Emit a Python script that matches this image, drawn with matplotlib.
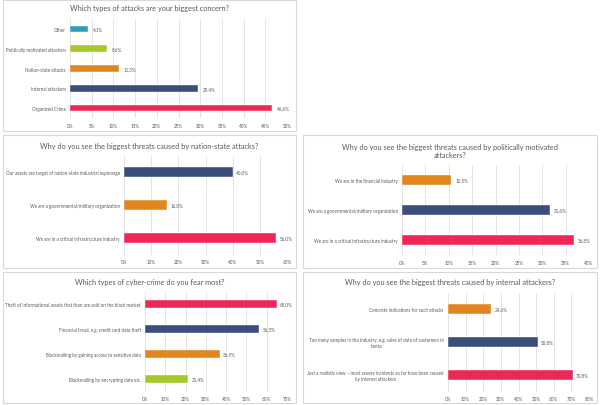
import matplotlib.pyplot as plt
from matplotlib.patches import Rectangle

# chart 1
concern_cats = ["Other", "Politically motivated attackers", "Nation-state attacks",
                "Internal attackers", "Organized Crime"]
concern_vals = [4.1, 8.6, 11.3, 29.4, 46.6]

# chart 2
nation_cats = ["Our assets are target of nation-state industrial espionage",
               "We are a governmental/military organization",
               "We are in a critical infrastructure industry"]
nation_vals = [40.0, 16.0, 56.0]

# chart 3
polit_cats = ["We are in the financial industry",
              "We are a governmental/military organization",
              "We are in a critical infrastructure industry"]
polit_vals = [10.5, 31.6, 36.8]

# chart 4
crime_cats = ["Theft of informational assets that then are sold on the black market",
              "Financial fraud, e.g. credit card data theft",
              "Blackmailing by gaining access to sensitive data",
              "Blackmailing by encrypting data etc."]
crime_vals = [65.0, 56.3, 36.9, 21.4]

# chart 5
internal_cats = ["Concrete indications for such attacks",
                 "Too many samples in the industry, e.g. sales of data of customers in\nbanks",
                 "Just a realistic view \u2013 most severe incidents so far have been caused\nby internal attackers"]
internal_vals = [24.6, 50.8, 70.8]

PINK = "#ee2757"
NAVY = "#3b4d7b"
ORANGE = "#df8620"
GREEN = "#a5c82b"
TEAL = "#2c9fbf"

plt.rcParams['font.family'] = ['Lato', 'DejaVu Sans']

W, H = 600, 406
fig = plt.figure(figsize=(6, 4.06), dpi=100)
fig.patch.set_facecolor("white")


def frame(x0, y0, x1, y1):
    fig.patches.append(Rectangle((x0 / W, 1 - y1 / H), (x1 - x0) / W, (y1 - y0) / H,
                                 transform=fig.transFigure, fill=False,
                                 edgecolor="#d9d9d9", linewidth=0.8))


def panel(box, title, title_y, ax_px, cats, vals, colors, xmax, step, bh):
    frame(*box)
    cx = (box[0] + box[2]) / 2
    fig.text(cx / W, 1 - title_y / H, title, ha="center", va="center",
             fontsize=5.3, color="#595959")
    x0, y0, x1, y1 = ax_px
    ax = fig.add_axes([x0 / W, 1 - y1 / H, (x1 - x0) / W, (y1 - y0) / H])
    pos = list(range(len(cats)))
    ax.barh(pos, vals, height=bh, color=colors, edgecolor="white", linewidth=0.3,
            zorder=3)
    for p, v in zip(pos, vals):
        ax.text(v + xmax * 0.022, p, f"{v:.1f}%".replace(".", ","), va="center",
                ha="left", fontsize=3.3, color="#595959")
    ax.set_ylim(len(cats) - 0.5, -0.5)
    ax.set_xlim(0, xmax)
    ticks = list(range(0, xmax + 1, step))
    ax.set_xticks(ticks)
    ax.set_xticklabels([f"{t}%" for t in ticks])
    ax.set_yticks(pos)
    ax.set_yticklabels(cats, multialignment="center")
    ax.tick_params(axis="x", length=0, pad=3.5, labelsize=3.3, labelcolor="#595959")
    ax.tick_params(axis="y", length=0, pad=3, labelsize=3.28, labelcolor="#595959")
    ax.grid(axis="x", color="#d9d9d9", linewidth=0.5, zorder=0)
    for s in ax.spines.values():
        s.set_visible(False)
    ax.set_facecolor("none")
    return ax


panel((3, 1, 296, 132), "Which types of attacks are your biggest concern?", 9,
      (70, 20, 287, 119), concern_cats, concern_vals,
      [TEAL, GREEN, ORANGE, NAVY, PINK], 50, 5, 0.33)

panel((3, 136, 296, 269), "Why do you see the biggest threats caused by nation-state attacks?", 146,
      (124, 156.5, 287, 255.5), nation_cats, nation_vals,
      [NAVY, ORANGE, PINK], 60, 10, 0.32)

panel((303, 136, 597, 269),
      "Why do you see the biggest threats caused by politically motivated\nattackers?", 151.5,
      (402, 166, 589, 256), polit_cats, polit_vals,
      [ORANGE, NAVY, PINK], 40, 5, 0.32)

panel((3, 273, 296, 404), "Which types of cyber-crime do you fear most?", 282,
      (145, 292.5, 287, 392.5), crime_cats, crime_vals,
      [PINK, NAVY, ORANGE, GREEN], 70, 10, 0.34)

panel((303, 273, 597, 404), "Why do you see the biggest threats caused by internal attackers?", 282,
      (448, 293.5, 589, 392.5), internal_cats, internal_vals,
      [ORANGE, NAVY, PINK], 80, 10, 0.32)

fig.savefig("out.png", dpi=100, facecolor="white")
